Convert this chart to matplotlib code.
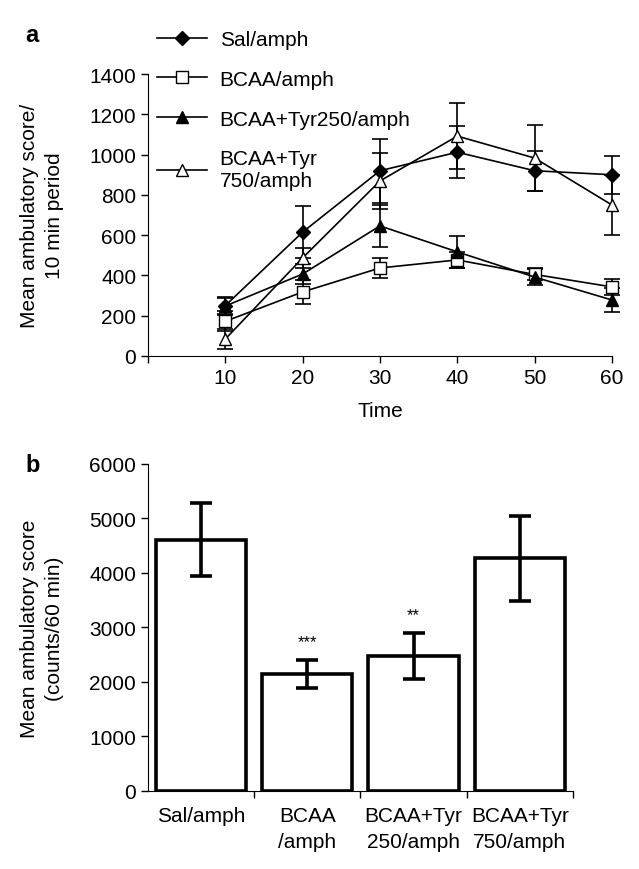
import matplotlib
matplotlib.use("Agg")
import matplotlib.pyplot as plt
from matplotlib.lines import Line2D

plt.rcParams['font.family'] = ['Liberation Sans', 'DejaVu Sans']

# panel a: time course
times = [10, 20, 30, 40, 50, 60]
sal_amph = [250, 615, 920, 1012, 920, 900]
sal_amph_err = [45, 130, 160, 130, 100, 95]
bcaa_amph = [172, 318, 437, 477, 405, 343]
bcaa_amph_err = [50, 60, 50, 40, 30, 40]
tyr250_amph = [248, 407, 646, 517, 392, 278]
tyr250_amph_err = [40, 50, 105, 80, 40, 60]
tyr750_amph = [84, 487, 869, 1092, 983, 750]
tyr750_amph_err = [50, 50, 140, 165, 165, 150]

# panel b: totals
groups = ["Sal/amph", "BCAA\n/amph", "BCAA+Tyr\n250/amph", "BCAA+Tyr\n750/amph"]
totals = [4610, 2140, 2480, 4270]
totals_err = [670, 260, 420, 780]
stars = ["", "***", "**", ""]

FS = 15

fig = plt.figure(figsize=(6.39, 8.7), dpi=100)

ax1 = fig.add_axes([0.2316, 0.5897, 0.726, 0.324])
series = [
    ("Sal/amph", sal_amph, sal_amph_err, "D", "black", 7),
    ("BCAA/amph", bcaa_amph, bcaa_amph_err, "s", "white", 8),
    ("BCAA+Tyr250/amph", tyr250_amph, tyr250_amph_err, "^", "black", 9),
    ("BCAA+Tyr\n750/amph", tyr750_amph, tyr750_amph_err, "^", "white", 9),
]
handles = []
for label, vals, err, mk, fc, ms in series:
    ax1.errorbar(times, vals, yerr=err, color="black", lw=1.2, marker=mk,
                 mfc=fc, mec="black", ms=ms, capsize=5.5, capthick=1.2,
                 elinewidth=1.2, clip_on=False)
    handles.append(Line2D([], [], color="black", lw=1.2, marker=mk,
                          mfc=fc, mec="black", ms=ms))

ax1.set_xlim(0, 60)
ax1.set_ylim(0, 1400)
ax1.set_xticks([0, 10, 20, 30, 40, 50, 60])
ax1.set_xticklabels(["", "10", "20", "30", "40", "50", "60"])
ax1.set_yticks(range(0, 1401, 200))
ax1.spines["top"].set_visible(False)
ax1.spines["right"].set_visible(False)
ax1.tick_params(labelsize=FS, direction="out", length=5, width=1)
ax1.set_xlabel("Time", fontsize=FS, labelpad=10)
ax1.set_ylabel("Mean ambulatory score/\n10 min period", fontsize=FS,
               labelpad=18, linespacing=1.4)

fig.legend(handles, [s[0] for s in series], loc="upper left",
           bbox_to_anchor=(0.233, 0.974), frameon=False, fontsize=FS,
           handlelength=2.4, handletextpad=0.6, labelspacing=1.0,
           borderaxespad=0)

fig.text(0.04, 0.952, "a", fontsize=FS + 2, fontweight="bold")

# panel b
ax2 = fig.add_axes([0.2316, 0.0897, 0.665, 0.3759])
xpos = range(len(groups))
ax2.bar(xpos, totals, width=0.85, color="white", edgecolor="black", lw=2.6)
ax2.errorbar(xpos, totals, yerr=totals_err, fmt="none", ecolor="black",
             elinewidth=2.6, capsize=8, capthick=2.6)
for x, v, e, s in zip(xpos, totals, totals_err, stars):
    if s:
        ax2.text(x, v + e + 200, s, ha="center", va="bottom", fontsize=12)

ax2.set_xlim(-0.5, 3.5)
ax2.set_ylim(0, 6000)
ax2.set_yticks(range(0, 6001, 1000))
ax2.set_xticks([0.5, 1.5, 2.5, 3.5])
ax2.set_xticklabels([])
ax2.set_xticks(list(xpos), minor=True)
ax2.set_xticklabels(groups, minor=True, fontsize=FS, linespacing=1.45)
ax2.tick_params(axis="x", which="minor", length=0, pad=11)
ax2.spines["top"].set_visible(False)
ax2.spines["right"].set_visible(False)
ax2.tick_params(which="major", labelsize=FS, direction="out", length=5, width=1)
ax2.set_ylabel("Mean ambulatory score\n(counts/60 min)", fontsize=FS,
               labelpad=18, linespacing=1.4)

fig.text(0.04, 0.458, "b", fontsize=FS + 2, fontweight="bold")

fig.savefig("out.png", dpi=100)
